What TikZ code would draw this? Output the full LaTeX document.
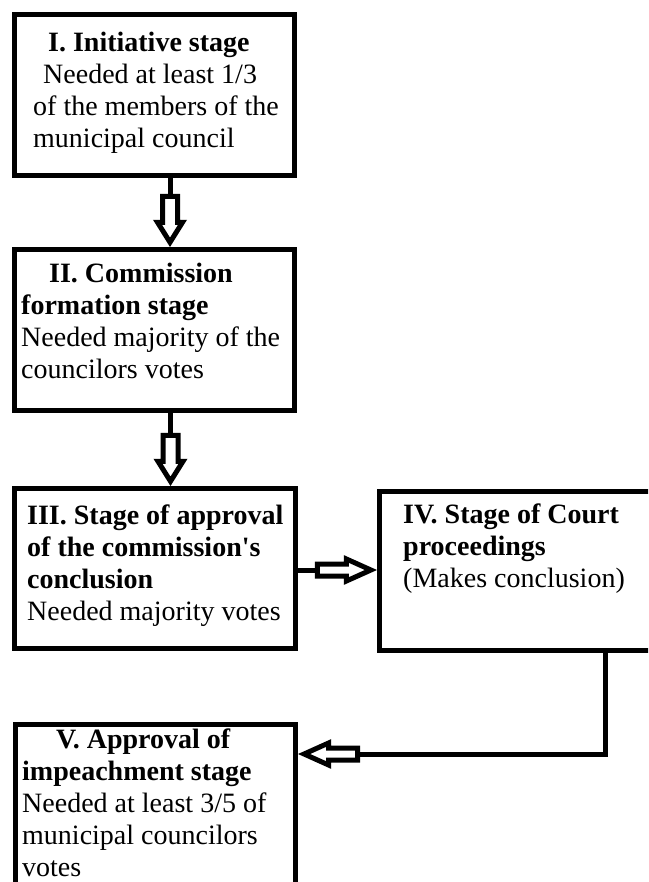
\documentclass[tikz,border=0pt]{standalone}
\usepackage{fontspec}
\setmainfont{Liberation Serif}
\usetikzlibrary{calc}
% invisible strut that fixes the height of the first text line
\newcommand\topstrut{\rule{0pt}{20pt}}
\begin{document}
\begin{tikzpicture}[x=1pt,y=-1pt,
  stage/.style={draw=black, line width=5pt, fill=white, anchor=north west, inner sep=0pt},
  stagetext/.style={anchor=north west, inner sep=0pt, align=left,
    font=\fontsize{28}{32}\selectfont, text=black},
  link/.style={draw=black, line width=5pt, line join=miter},
  pics/blockarrow/.style args={#1/#2/#3/#4}{code={
    % hollow block arrow, tip at the origin, pointing along +x
    % #1 shaft length, #2 head length, #3 shaft half width, #4 head half width
    \draw[line width=5pt, line join=miter, fill=white]
      (0,0) -- (-#2,#4) -- (-#2,#3) -- (-#1-#2,#3) -- (-#1-#2,-#3)
      -- (-#2,-#3) -- (-#2,-#4) -- cycle;}},
]
\useasboundingbox (0,0) rectangle (648,882);
\fill[white] (0,0) rectangle (648,882);
\clip (0,0) rectangle (648,882);

% stage boxes
\node[stage, minimum width=280pt, minimum height=161pt] (A) at (12,12) {};
\node[stage, minimum width=280pt, minimum height=161pt] (B) at (12,247) {};
\node[stage, minimum width=281pt, minimum height=160pt] (C) at (12,486) {};
\node[stage, minimum width=300pt, minimum height=159pt] (D) at (377,489) {};
\node[stage, minimum width=280pt, minimum height=200pt] (E) at (13,722) {};

% stage texts
\node[stagetext] (tA) at (33,31) {\topstrut\hspace*{15pt}\textbf{I. Initiative stage}\\
  \hspace*{10pt}Needed at least 1/3\\
  of the members of the\\
  municipal council};
\node[stagetext] (tB) at (21,262) {\topstrut\hspace*{28pt}\textbf{II. Commission}\\
  \textbf{formation stage}\\
  Needed majority of the\\
  councilors votes};
\node[stagetext] (tC) at (27,504) {\topstrut\textbf{III. Stage of approval}\\
  \textbf{of the commission\textquotesingle s}\\
  \textbf{conclusion}\\
  Needed majority votes};
\node[stagetext] (tD) at (403,503) {\topstrut\textbf{IV. Stage of Court}\\
  \textbf{proceedings}\\
  (Makes conclusion)};
\node[stagetext] (tE) at (22,728) {\topstrut\hspace*{34pt}\textbf{V. Approval of}\\
  \textbf{impeachment stage}\\
  Needed at least 3/5 of\\
  municipal councilors\\
  votes};

% guide positions of the connectors
\coordinate (x1) at (170,0);
\coordinate (x2) at (170.5,0);
\coordinate (y3) at (0,570);
\coordinate (x4) at (605.5,0);
\coordinate (y4) at (0,754);

% I -> II
\coordinate (tip1) at ($(B.north -| x1)+(0,-4.7)$);
\coordinate (back1) at ($(tip1)+(0,-46)$);
\draw[link] (A.south -| x1) -- (back1);
\pic[rotate=-90] at (tip1) {blockarrow=26/20/7.5/12.5};

% II -> III
\coordinate (tip2) at ($(C.north -| x2)+(0,-4.7)$);
\coordinate (back2) at ($(tip2)+(0,-46)$);
\draw[link] (B.south -| x2) -- (back2);
\pic[rotate=-90] at (tip2) {blockarrow=26/20/7.5/12.5};

% III -> IV
\coordinate (tip3) at ($(D.west |- y3)+(-6.1,0)$);
\coordinate (back3) at ($(tip3)+(-53.5,0)$);
\draw[link] (C.east |- y3) -- (back3);
\pic at (tip3) {blockarrow=29/24.5/6/11};

% IV -> V
\coordinate (tip4) at ($(E.east |- y4)+(6.1,0)$);
\coordinate (back4) at ($(tip4)+(53.5,0)$);
\draw[link] (D.south -| x4) |- (back4);
\pic[rotate=180] at (tip4) {blockarrow=29/24.5/6/11};
\end{tikzpicture}
\end{document}
